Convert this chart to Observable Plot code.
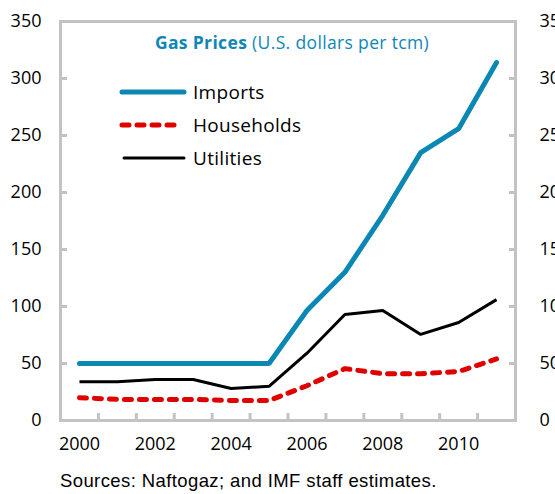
<!DOCTYPE html>
<html>
<head>
<meta charset="utf-8">
<script src="https://cdn.jsdelivr.net/npm/d3@7"></script>
<script src="https://cdn.jsdelivr.net/npm/@observablehq/plot@0.6"></script>
<style>
  body { margin: 0; background: #fff; }
  #wrap { position: relative; width: 555px; height: 494px; overflow: hidden; }
  #title { position: absolute; left: 0; width: 584px; top: 30px; text-align: center; font-family: "Open Sans", sans-serif; font-size: 17.5px; letter-spacing: 0.35px; color: #0f87b5; white-space: nowrap; }
  #title b { font-weight: 700; }
  #legend { position: absolute; left: 118px; top: 75px; font-family: "Open Sans", sans-serif; font-size: 19px; letter-spacing: 0.3px; color: #000; }
  .item { position: relative; height: 33px; display: flex; align-items: center; }
  .item svg { width: 72px; height: 20px; }
  .item span { margin-left: 3px; }
  #caption { position: absolute; left: 60px; top: 470px; font-family: "Liberation Sans", Arial, sans-serif; font-size: 18.5px; letter-spacing: 0.4px; color: #000; white-space: nowrap; }
</style>
</head>
<body>
<div id="wrap">
  <div id="chart"></div>
  <div id="title"><b>Gas Prices</b> (U.S. dollars per tcm)</div>
  <div id="legend"></div>
  <div id="caption">Sources: Naftogaz; and IMF staff estimates.</div>
</div>
<script>
const years = [2000, 2001, 2002, 2003, 2004, 2005, 2006, 2007, 2008, 2009, 2010, 2011];
const imports = [50, 50, 50, 50, 50, 50, 96.5, 130, 180, 235, 256, 314];
const households = [20, 18.5, 18.5, 18.5, 17.5, 17.5, 30.5, 45.5, 41, 41, 43, 54];
const utilities = [34, 34, 36, 36, 28, 30, 59, 93, 96.5, 75.5, 86, 106];
const seriesNames = ["Imports", "Households", "Utilities"];
const yTicks = [0, 50, 100, 150, 200, 250, 300, 350];
const xLabelTicks = [2000, 2002, 2004, 2006, 2008, 2010];

const colors = { Imports: "#0b87b3", Households: "#e00000", Utilities: "#000000" };
const styles = {
  Imports: { strokeWidth: 5, strokeDasharray: null, strokeLinecap: "round" },
  Households: { strokeWidth: 5, strokeDasharray: "7,8", strokeLinecap: "round" },
  Utilities: { strokeWidth: 3, strokeDasharray: null, strokeLinecap: "butt" }
};
const valuesBy = { Imports: imports, Households: households, Utilities: utilities };
const rows = seriesNames.flatMap(s => years.map((yr, i) => ({ series: s, year: yr, value: valuesBy[s][i] })));
const boundaries = years.slice(0, -1).map(y => y + 0.5);

const font = "'Open Sans', sans-serif";
const plot = Plot.plot({
  width: 555,
  height: 460,
  marginLeft: 60,
  marginRight: 40,
  marginTop: 21,
  marginBottom: 40,
  style: { fontFamily: font, fontSize: "18px", color: "#000", background: "#fff", overflow: "visible" },
  x: { domain: [years[0] - 0.5, years[years.length - 1] + 0.5] },
  y: { domain: [0, 350] },
  marks: [
    Plot.frame({ stroke: "#c3c3c3", strokeWidth: 3 }),
    Plot.axisY({ anchor: "left", ticks: yTicks, tickSize: 7, dx: 7, stroke: "#c3c3c3", strokeWidth: 3, tickFormat: () => "", label: null }),
    Plot.axisY({ anchor: "right", ticks: yTicks, tickSize: 7, dx: -7, stroke: "#c3c3c3", strokeWidth: 3, tickFormat: () => "", label: null }),
    Plot.axisY({ anchor: "left", ticks: yTicks, tickSize: 0, tickPadding: 19, label: null, fill: "#000" }),
    Plot.axisY({ anchor: "right", ticks: yTicks, tickSize: 0, tickPadding: 24, label: null, fill: "#000" }),
    Plot.axisX({ anchor: "bottom", ticks: boundaries, tickSize: 7, dy: -7, stroke: "#c3c3c3", strokeWidth: 3, tickFormat: () => "", label: null }),
    Plot.axisX({ anchor: "bottom", ticks: xLabelTicks, tickSize: 0, tickPadding: 17, tickFormat: d => String(d), label: null, fill: "#000" }),
    ...seriesNames.map(s => Plot.line(rows.filter(r => r.series === s), {
      x: "year", y: "value", stroke: colors[s], strokeWidth: styles[s].strokeWidth,
      strokeDasharray: styles[s].strokeDasharray, strokeLinecap: styles[s].strokeLinecap, strokeLinejoin: "miter"
    }))
  ]
});
document.getElementById("chart").appendChild(plot);

const legend = document.getElementById("legend");
for (const s of seriesNames) {
  const div = document.createElement("div");
  div.className = "item";
  const st = styles[s];
  div.innerHTML = `<svg viewBox="0 0 72 20"><line x1="${s === "Utilities" ? 6 : 4}" x2="${s === "Households" ? 64 : 66}" y1="10" y2="10" stroke="${colors[s]}" stroke-width="${st.strokeWidth}" ${st.strokeDasharray ? `stroke-dasharray="${st.strokeDasharray}"` : ""} stroke-linecap="${st.strokeLinecap === "butt" ? "round" : st.strokeLinecap}"/></svg><span>${s}</span>`;
  legend.appendChild(div);
}
</script>
</body>
</html>
